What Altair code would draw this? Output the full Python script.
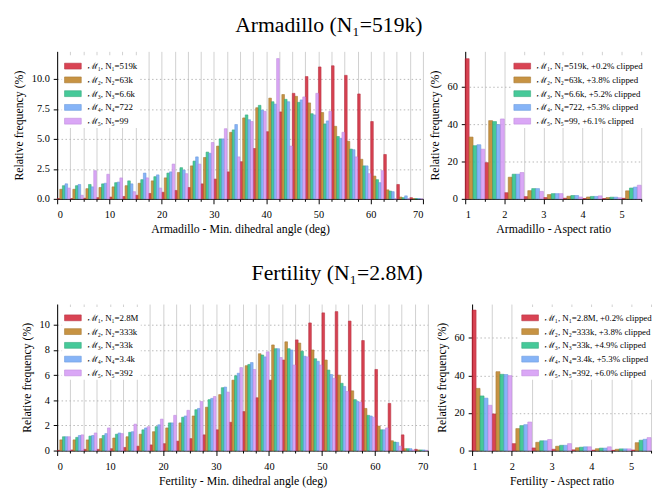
import altair as alt
import pandas as pd

FONT = "Liberation Serif, Times New Roman, serif"
COLORS = ["#d42a3c", "#c0852a", "#2dc28b", "#76aaf6", "#d69bf5"]
EDGES = ["#b01d2e", "#9c6a1c", "#1f9f6f", "#5a8fdc", "#b87fd9"]

ANGLE_BINS = [0, 2.5, 5, 7.5, 10, 12.5, 15, 17.5, 20, 22.5, 25, 27.5, 30, 32.5,
              35, 37.5, 40, 42.5, 45, 47.5, 50, 52.5, 55, 57.5, 60, 62.5, 65, 67.5]
ANGLE_TICKS = ANGLE_BINS + [70]
RATIO_BINS = [1, 1.5, 2, 2.5, 3, 3.5, 4, 4.5, 5]
RATIO_TICKS = RATIO_BINS + [5.5]

# Armadillo - min dihedral angle (% per 2.5 deg bin)
arm_angle_m1 = [0.02, 0.02, 0.05, 0.1, 0.15, 0.2, 0.3, 0.45, 0.55, 0.7, 0.95, 1.25, 1.65, 2.25,
                3.1, 4.2, 5.6, 7.25, 8.8, 10.2, 11.0, 11.1, 10.3, 8.75, 6.45, 3.7, 1.2, 0.1]
arm_angle_m2 = [0.8, 0.8, 0.85, 0.95, 1.0, 1.1, 1.3, 1.5, 1.75, 2.2, 2.75, 3.45, 4.4, 5.55,
                6.75, 7.6, 8.4, 8.7, 8.55, 8.0, 7.2, 6.05, 4.8, 3.3, 1.9, 0.75, 0.15, 0.02]
arm_angle_m3 = [1.1, 1.1, 1.2, 1.25, 1.35, 1.5, 1.6, 1.85, 2.15, 2.6, 3.15, 3.9, 5.0, 5.75,
                7.0, 7.8, 8.1, 8.3, 8.05, 7.1, 6.25, 5.2, 4.15, 2.75, 1.6, 0.65, 0.1, 0.02]
arm_angle_m4 = [1.25, 1.2, 1.0, 1.3, 1.4, 1.25, 2.15, 2.0, 2.25, 2.4, 3.5, 3.8, 5.0, 6.2,
                6.6, 7.4, 7.9, 8.1, 8.25, 7.0, 6.5, 5.05, 4.1, 2.75, 1.35, 0.6, 0.25, 0.02]
arm_angle_m5 = [0.9, 0.3, 2.35, 2.05, 1.75, 0.6, 1.75, 0.9, 2.9, 2.1, 2.9, 4.7, 5.85, 3.5,
                6.45, 7.3, 11.7, 4.4, 8.5, 8.8, 7.3, 5.55, 3.5, 2.1, 2.35, 0.0, 0.0, 0.0]

# Fertility - min dihedral angle
fer_angle_m1 = [0.02, 0.05, 0.1, 0.1, 0.15, 0.25, 0.35, 0.45, 0.55, 0.75, 0.95, 1.25, 1.65, 2.25,
                3.1, 4.2, 5.6, 7.2, 8.8, 10.15, 10.95, 11.05, 10.3, 8.75, 6.45, 3.75, 1.25, 0.1]
fer_angle_m2 = [0.85, 0.85, 0.85, 0.95, 1.0, 1.1, 1.3, 1.5, 1.8, 2.2, 2.75, 3.45, 4.45, 5.6,
                6.75, 7.7, 8.4, 8.65, 8.55, 8.0, 7.2, 6.0, 4.75, 3.35, 1.95, 0.78, 0.15, 0.05]
fer_angle_m3 = [1.1, 1.05, 1.15, 1.2, 1.3, 1.45, 1.65, 1.9, 2.2, 2.65, 3.25, 4.05, 5.0, 5.95,
                6.85, 7.6, 8.1, 8.1, 7.9, 7.3, 6.4, 5.35, 4.05, 2.8, 1.65, 0.68, 0.15, 0.05]
fer_angle_m4 = [1.1, 1.2, 1.2, 1.35, 1.4, 1.5, 1.8, 2.05, 2.2, 2.75, 3.35, 4.15, 5.05, 6.15,
                7.0, 7.45, 8.1, 8.0, 7.5, 7.1, 6.05, 5.1, 3.9, 2.75, 1.65, 0.65, 0.15, 0.05]
fer_angle_m5 = [1.1, 1.25, 1.4, 1.8, 1.35, 2.1, 1.9, 2.5, 2.8, 3.2, 3.9, 4.3, 4.65, 6.6,
                6.45, 7.85, 7.4, 6.8, 7.45, 6.8, 5.75, 4.7, 3.85, 2.65, 1.8, 0.35, 0.05, 0.02]

# Aspect ratio (% per 0.5 bin, last bin holds clipped values)
arm_ratio_m1 = [75.1, 19.4, 3.3, 1.2, 0.7, 0.35, 0.2, 0.15, 0.3]
arm_ratio_m2 = [33.1, 41.9, 11.6, 4.4, 2.3, 1.4, 1.0, 0.7, 4.3]
arm_ratio_m3 = [28.5, 41.4, 13.2, 5.5, 2.8, 1.8, 1.3, 0.9, 5.8]
arm_ratio_m4 = [29.0, 39.8, 13.2, 5.5, 2.8, 1.8, 1.3, 0.9, 6.3]
arm_ratio_m5 = [26.6, 42.8, 14.1, 4.0, 2.8, 1.0, 1.6, 0.6, 7.3]

fer_ratio_m1 = [74.8, 19.5, 3.7, 1.4, 0.7, 0.4, 0.25, 0.15, 0.3]
fer_ratio_m2 = [33.1, 42.0, 11.7, 4.4, 2.3, 1.5, 1.0, 0.7, 4.2]
fer_ratio_m3 = [29.1, 40.6, 13.3, 5.2, 2.8, 1.8, 1.3, 0.9, 5.5]
fer_ratio_m4 = [27.9, 40.5, 13.8, 5.2, 2.8, 2.0, 1.3, 0.9, 6.0]
fer_ratio_m5 = [24.1, 39.9, 15.2, 5.9, 3.7, 2.0, 2.0, 0.9, 6.9]

arm_angle_labels = ["ℳ₁, N₁=519k", "ℳ₂, N₂=63k", "ℳ₃, N₃=6.6k", "ℳ₄, N₄=722", "ℳ₅, N₅=99"]
arm_ratio_labels = ["ℳ₁, N₁=519k, +0.2% clipped", "ℳ₂, N₂=63k, +3.8% clipped",
                    "ℳ₃, N₃=6.6k, +5.2% clipped", "ℳ₄, N₄=722, +5.3% clipped",
                    "ℳ₅, N₅=99, +6.1% clipped"]
fer_angle_labels = ["ℳ₁, N₁=2.8M", "ℳ₂, N₂=333k", "ℳ₃, N₃=33k", "ℳ₄, N₄=3.4k", "ℳ₅, N₅=392"]
fer_ratio_labels = ["ℳ₁, N₁=2.8M, +0.2% clipped", "ℳ₂, N₂=333k, +3.8% clipped",
                    "ℳ₃, N₃=33k, +4.9% clipped", "ℳ₄, N₄=3.4k, +5.3% clipped",
                    "ℳ₅, N₅=392, +6.0% clipped"]


def panel(series, labels, bins, binw, xdom, xticks, major, xtitle, ydom, yticks, yfmt,
          width, height, lx, ly):
    rows = []
    n = len(series)
    bw = binw / n
    for k, (vals, lab) in enumerate(zip(series, labels)):
        for b, v in zip(bins, vals):
            rows.append({"x0": b + k * bw, "x1": b + (k + 1) * bw, "v": v, "y0": 0.0, "s": lab})
    df = pd.DataFrame(rows)
    legend = alt.Legend(
        title=None, orient="none", legendX=lx, legendY=ly, padding=2, fillColor="white",
        labelFont=FONT, labelFontSize=9, labelLimit=0, labelColor="black",
        symbolType="M-1,-0.35H1V0.35H-1Z", symbolSize=289, symbolStrokeWidth=0.6,
        symbolOpacity=0.88, rowPadding=0, labelOffset=6,
    )
    return alt.Chart(df).mark_rect(opacity=0.88, strokeWidth=0.6).encode(
        x=alt.X("x0:Q", scale=alt.Scale(domain=xdom, nice=False, zero=False),
                axis=alt.Axis(values=xticks, title=xtitle, grid=True, gridColor="#d0d0d0",
                              gridWidth=1,
                              labelExpr=f"({major}) ? format(datum.value, 'd') : ''",
                              tickSize={"condition": {"test": major, "value": 5}, "value": 2.5})),
        x2="x1:Q",
        y=alt.Y("v:Q", scale=alt.Scale(domain=ydom, nice=False),
                axis=alt.Axis(values=yticks, format=yfmt, title="Relative frequency (%)",
                              grid=True, gridDash=[1.5, 2.5], gridColor="#b8b8b8")),
        y2="y0:Q",
        color=alt.Color("s:N", scale=alt.Scale(domain=labels, range=COLORS), legend=legend),
        stroke=alt.Stroke("s:N", scale=alt.Scale(domain=labels, range=EDGES), legend=None),
    ).properties(width=width, height=height)


def title(text, offset):
    return alt.TitleParams(text=text, font=FONT, fontSize=22, fontWeight="normal",
                           anchor="middle", offset=offset, color="black")


a1 = panel([arm_angle_m1, arm_angle_m2, arm_angle_m3, arm_angle_m4, arm_angle_m5],
           arm_angle_labels, ANGLE_BINS, 2.5, [0, 70], ANGLE_TICKS, "datum.value % 10 === 0",
           "Armadillo - Min. dihedral angle (deg)", [0, 12.3], [0, 2.5, 5, 7.5, 10], ".1f",
           372, 150, 5, 4)
a2 = panel([arm_ratio_m1, arm_ratio_m2, arm_ratio_m3, arm_ratio_m4, arm_ratio_m5],
           arm_ratio_labels, RATIO_BINS, 0.5, [1, 5.5], RATIO_TICKS, "datum.value % 1 === 0",
           "Armadillo - Aspect ratio", [0, 79], [0, 20, 40, 60], "d",
           179, 150, 47, 4)
f1 = panel([fer_angle_m1, fer_angle_m2, fer_angle_m3, fer_angle_m4, fer_angle_m5],
           fer_angle_labels, ANGLE_BINS, 2.5, [0, 70], ANGLE_TICKS, "datum.value % 10 === 0",
           "Fertility - Min. dihedral angle (deg)", [0, 11.65], [0, 2, 4, 6, 8, 10], "d",
           377, 149, 5, 3)
f2 = panel([fer_ratio_m1, fer_ratio_m2, fer_ratio_m3, fer_ratio_m4, fer_ratio_m5],
           fer_ratio_labels, RATIO_BINS, 0.5, [1, 5.5], RATIO_TICKS, "datum.value % 1 === 0",
           "Fertility - Aspect ratio", [0, 78], [0, 20, 40, 60], "d",
           182, 149, 48, 3)

row1 = alt.hconcat(a1, a2, spacing=4, title=title("Armadillo (N₁=519k)", 15)).resolve_scale(
    color="independent", stroke="independent")
row2 = alt.hconcat(f1, f2, spacing=6, title=title("Fertility (N₁=2.8M)", 19)).resolve_scale(
    color="independent", stroke="independent")

chart = alt.vconcat(row1, row2, spacing=28).resolve_scale(
    color="independent", stroke="independent"
).properties(
    padding={"left": 4, "top": 2, "right": 0, "bottom": 0}
).configure_view(stroke=None).configure_axis(
    labelFont=FONT, titleFont=FONT, labelFontSize=10.5, titleFontSize=12,
    labelColor="black", titleColor="black", domainColor="black", tickColor="black",
    titleFontWeight="normal", domainWidth=1, tickWidth=1,
).configure_axisX(labelPadding=6, titlePadding=4).configure_axisY(
    tickSize=4, labelPadding=4, titlePadding=6)

chart.save("out.html", embed_options={"renderer": "svg", "actions": False})
